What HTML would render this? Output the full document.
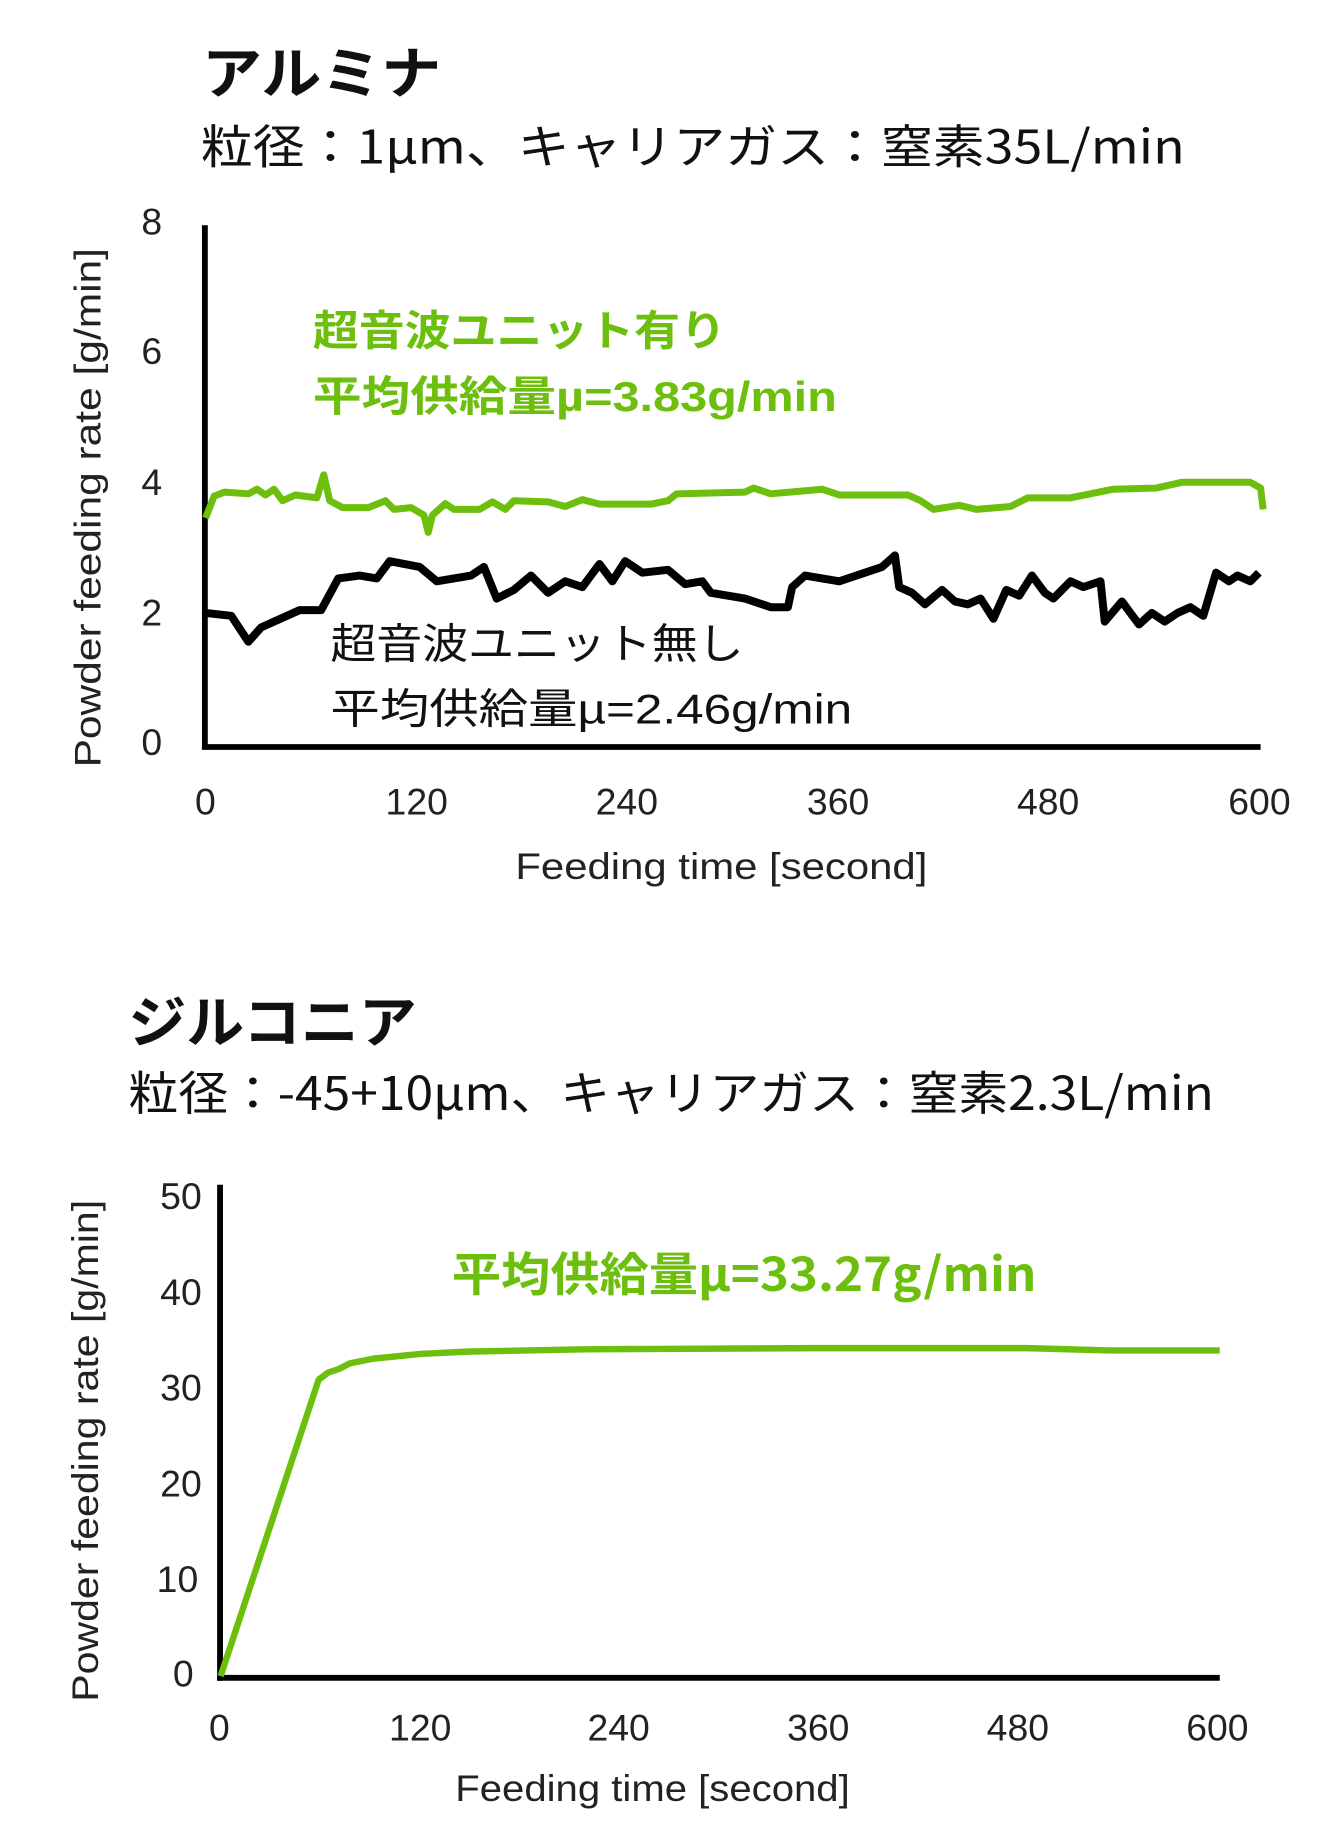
<!DOCTYPE html>
<html><head><meta charset="utf-8"><style>
html,body{margin:0;padding:0;background:#fff}
svg{display:block}
text{font-family:"Liberation Sans","Noto Sans CJK JP",sans-serif}
.jp{font-family:"Noto Sans CJK JP","Liberation Sans",sans-serif}
.ax{font-family:"DejaVu Sans","Liberation Sans",sans-serif;font-size:32px;fill:#222}
</style></head><body>
<svg width="1340" height="1829" viewBox="0 0 1148 1567" xmlns="http://www.w3.org/2000/svg">
<rect width="1148" height="1567" fill="#fff"/>
<!-- Top chart -->
<text class="jp" x="173" y="80" font-size="48" font-weight="700" fill="#111" textLength="205" lengthAdjust="spacingAndGlyphs">アルミナ</text>
<text class="jp" x="172" y="140" font-size="40" fill="#111" textLength="843" lengthAdjust="spacingAndGlyphs">粒径：1µm、キャリアガス：窒素35L/min</text>

<line x1="175.5" y1="193" x2="175.5" y2="642" stroke="#000" stroke-width="5"/>
<line x1="173" y1="640" x2="1080" y2="640" stroke="#000" stroke-width="5"/>
<g class="ax" text-anchor="middle">
<text x="130" y="201">8</text><text x="130" y="312">6</text><text x="130" y="424">4</text><text x="130" y="536">2</text><text x="130" y="647">0</text>
<text x="176" y="698">0</text><text x="357" y="698">120</text><text x="537" y="698">240</text><text x="718" y="698">360</text><text x="898" y="698">480</text><text x="1079" y="698">600</text>
<text x="618" y="753" textLength="353" lengthAdjust="spacingAndGlyphs">Feeding time [second]</text>
<text transform="translate(86,435) rotate(-90)" textLength="445" lengthAdjust="spacingAndGlyphs">Powder feeding rate [g/min]</text>
</g>

<g transform="scale(0.7337,0.4931)">
<polyline fill="none" stroke="#6cbf0c" stroke-width="7" vector-effect="non-scaling-stroke" stroke-linejoin="round"
points="240,900 250,862 262,855 290,858 300,850 310,860 320,850 330,870 345,860 370,865 378,825 385,870 400,882 430,882 450,870 460,885 480,882 495,895 500,925 505,895 520,875 530,885 545,885 560,885 575,872 590,885 600,870 640,872 660,880 680,868 700,876 760,876 780,870 790,858 870,855 880,848 900,858 960,850 980,860 1060,860 1075,870 1090,885 1120,878 1140,885 1180,880 1200,865 1250,865 1300,850 1350,848 1380,838 1460,838 1472,848 1475,885"/>
<polyline fill="none" stroke="#000" stroke-width="8" vector-effect="non-scaling-stroke" stroke-linejoin="round"
points="240,1065 270,1070 290,1115 305,1090 350,1060 375,1060 395,1005 420,1000 440,1005 455,975 490,985 510,1010 530,1005 550,1000 565,985 580,1040 600,1025 620,1000 640,1030 660,1010 680,1020 700,980 715,1010 730,975 750,995 780,990 800,1015 820,1010 830,1030 850,1035 870,1040 890,1050 900,1055 920,1055 925,1020 940,1000 960,1005 980,1010 1000,1000 1030,985 1045,965 1050,1020 1065,1030 1080,1050 1100,1025 1115,1045 1130,1050 1145,1040 1160,1075 1175,1025 1190,1035 1205,1000 1220,1030 1230,1040 1250,1010 1265,1020 1285,1010 1290,1080 1310,1045 1330,1085 1345,1065 1360,1080 1375,1065 1390,1055 1405,1070 1420,995 1435,1010 1445,1000 1460,1010 1470,995"/>
</g>

<g class="jp" font-weight="700">
<text x="268" y="296" font-size="36" fill="#6cbf0c" textLength="354" lengthAdjust="spacingAndGlyphs">超音波ユニット有り</text>
<text x="268" y="352" font-size="36" fill="#6cbf0c" textLength="449" lengthAdjust="spacingAndGlyphs">平均供給量µ=3.83g/min</text>
<text x="283" y="564" font-size="36" fill="#111" font-weight="400" textLength="354" lengthAdjust="spacingAndGlyphs">超音波ユニット無し</text>
<text x="283" y="620" font-size="36" fill="#111" font-weight="400" textLength="447" lengthAdjust="spacingAndGlyphs">平均供給量µ=2.46g/min</text>
</g>

<!-- Bottom chart -->
<text class="jp" x="110" y="893" font-size="48" font-weight="700" fill="#111" textLength="247" lengthAdjust="spacingAndGlyphs">ジルコニア</text>
<text class="jp" x="110" y="951" font-size="40" fill="#111" textLength="930" lengthAdjust="spacingAndGlyphs">粒径：-45+10µm、キャリアガス：窒素2.3L/min</text>

<line x1="188.5" y1="1015" x2="188.5" y2="1440" stroke="#000" stroke-width="5"/>
<line x1="186" y1="1437.5" x2="1045" y2="1437.5" stroke="#000" stroke-width="5"/>
<g class="ax" text-anchor="middle">
<text x="155" y="1036">50</text><text x="155" y="1118">40</text><text x="155" y="1200">30</text><text x="155" y="1282">20</text><text x="152" y="1364">10</text><text x="157" y="1445">0</text>
<text x="188" y="1491">0</text><text x="360" y="1491">120</text><text x="530" y="1491">240</text><text x="701" y="1491">360</text><text x="872" y="1491">480</text><text x="1043" y="1491">600</text>
<text x="559" y="1543" textLength="338" lengthAdjust="spacingAndGlyphs">Feeding time [second]</text>
<text transform="translate(84,1243) rotate(-90)" textLength="430" lengthAdjust="spacingAndGlyphs">Powder feeding rate [g/min]</text>
</g>
<polyline fill="none" stroke="#6cbf0c" stroke-width="5.5" stroke-linejoin="round"
points="189,1436 273,1182 281,1176 290,1173 300,1168 320,1164 360,1160 400,1158 500,1156 700,1155 880,1155 950,1157 1045,1157"/>
<text class="jp" x="387" y="1106" font-size="40" font-weight="700" fill="#6cbf0c" textLength="501" lengthAdjust="spacingAndGlyphs">平均供給量µ=33.27g/min</text>
</svg>
</body></html>
